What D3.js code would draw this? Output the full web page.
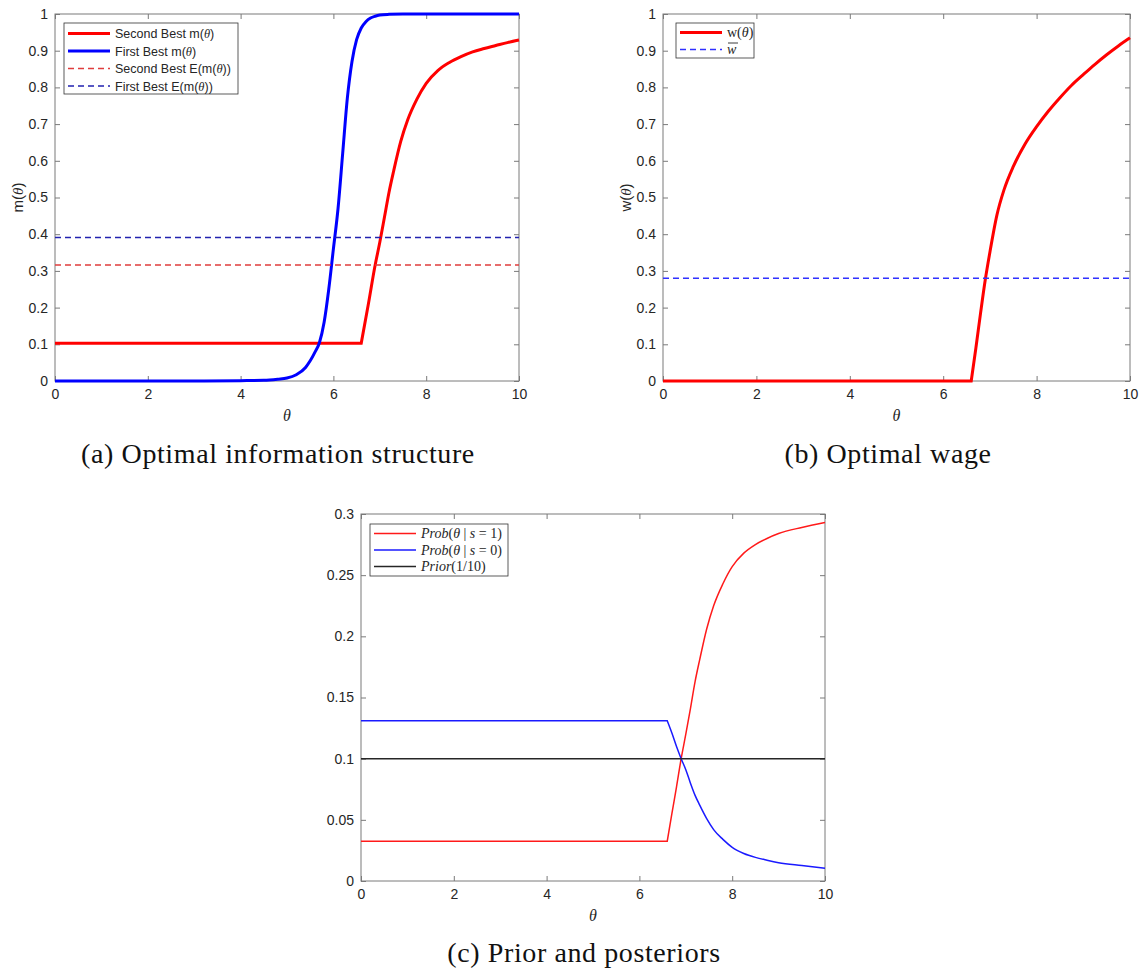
<!DOCTYPE html>
<html>
<head>
<meta charset="utf-8">
<script src="https://cdn.jsdelivr.net/npm/d3@7/dist/d3.min.js"></script>
<style>
  body { margin: 0; background: #fff; }
  svg { display: block; }
  .tick text { font-family: "Liberation Sans", Arial, sans-serif; font-size: 14px; fill: #262626; }
  .tick line { stroke: #7a7a7a; }
  .domain { display: none; }
</style>
</head>
<body>
<svg id="chart" width="1140" height="972"></svg>
<script>
// x axis ticks shared by all three panels
var xTicks = [0, 2, 4, 6, 8, 10];
var yTicksA = [0, 0.1, 0.2, 0.3, 0.4, 0.5, 0.6, 0.7, 0.8, 0.9, 1];
var yTicksC = [0, 0.05, 0.1, 0.15, 0.2, 0.25, 0.3];

// (a) second best m(theta)
var thetaSecond = [0, 6.6, 6.75, 6.9, 7.0, 7.1, 7.2, 7.3, 7.45, 7.6, 7.8, 8.0, 8.25, 8.5, 8.75, 9.0, 9.25, 9.5, 9.75, 10];
var mSecond = [0.103, 0.103, 0.207, 0.316, 0.378, 0.446, 0.515, 0.573, 0.652, 0.711, 0.768, 0.811, 0.846, 0.868, 0.884, 0.897, 0.906, 0.914, 0.922, 0.929];

// (a) first best m(theta)
var thetaFirst = [0, 3, 4, 4.5, 4.8, 5.0, 5.2, 5.4, 5.5, 5.6, 5.7, 5.8, 5.9, 6.0, 6.1, 6.2, 6.3, 6.4, 6.5, 6.6, 6.7, 6.8, 6.9, 7.0, 7.2, 7.5, 8, 10];
var mFirst = [0, 0, 0.001, 0.002, 0.005, 0.008, 0.017, 0.037, 0.055, 0.078, 0.105, 0.16, 0.25, 0.36, 0.47, 0.62, 0.77, 0.87, 0.93, 0.962, 0.979, 0.989, 0.994, 0.997, 0.999, 1, 1, 1];

// (a) expected values
var eSecond = 0.316;
var eFirst = 0.391;

// (b) wage
var thetaWage = [0, 6.6, 6.7, 6.8, 6.9, 7.0, 7.15, 7.3, 7.5, 7.75, 8.0, 8.25, 8.5, 8.75, 9.0, 9.25, 9.5, 9.75, 10];
var wage = [0, 0, 0.09, 0.185, 0.275, 0.351, 0.452, 0.52, 0.584, 0.645, 0.693, 0.735, 0.772, 0.806, 0.835, 0.863, 0.889, 0.913, 0.935];
var wBar = 0.28;

// (c) posteriors and prior
var thetaPost = [0, 6.6, 6.7, 6.8, 6.9, 7.0, 7.1, 7.2, 7.3, 7.45, 7.6, 7.8, 8.0, 8.25, 8.5, 8.75, 9.0, 9.5, 10];
var postS1 = [0.0325, 0.0325, 0.055, 0.077, 0.1, 0.12, 0.141, 0.163, 0.181, 0.206, 0.225, 0.243, 0.257, 0.268, 0.275, 0.28, 0.284, 0.289, 0.293];
var postS0 = [0.131, 0.131, 0.121, 0.11, 0.1, 0.091, 0.08, 0.07, 0.062, 0.051, 0.042, 0.034, 0.0275, 0.0225, 0.0193, 0.017, 0.015, 0.0126, 0.0104];
var prior = 0.1;

// legend / label texts, split into [text, font] runs
var legendA = [
  [['Second Best m(', 'sans'], ['\u03b8', 'it'], [')', 'sans']],
  [['First Best m(', 'sans'], ['\u03b8', 'it'], [')', 'sans']],
  [['Second Best E(m(', 'sans'], ['\u03b8', 'it'], ['))', 'sans']],
  [['First Best E(m(', 'sans'], ['\u03b8', 'it'], ['))', 'sans']]
];
var legendB = [
  [['w(', 'serif'], ['\u03b8', 'it'], [')', 'serif']],
  [['w', 'it']]
];
var legendC = [
  [['Prob', 'it'], ['(', 'serif'], ['\u03b8', 'it'], [' | ', 'serif'], ['s', 'it'], [' = 1)', 'serif']],
  [['Prob', 'it'], ['(', 'serif'], ['\u03b8', 'it'], [' | ', 'serif'], ['s', 'it'], [' = 0)', 'serif']],
  [['Prior', 'it'], ['(1/10)', 'serif']]
];
var captions = ['(a) Optimal information structure', '(b) Optimal wage', '(c) Prior and posteriors'];

var SANS = '"Liberation Sans", Arial, sans-serif';
var SERIF = '"Liberation Serif", "Times New Roman", serif';

var svg = d3.select('#chart');

function addRuns(text, runs) {
  runs.forEach(function(r) {
    var t = text.append('tspan').text(r[0]);
    if (r[1] === 'sans') t.attr('font-family', SANS);
    else t.attr('font-family', SERIF);
    if (r[1] === 'it') t.attr('font-style', 'italic');
  });
}

function drawPanel(p) {
  var x = d3.scaleLinear().domain([0, 10]).range([p.left, p.right]);
  var y = d3.scaleLinear().domain(p.yDomain).range([p.bottom, p.top]);
  var g = svg.append('g');

  g.append('g').attr('transform', 'translate(0,' + p.bottom + ')')
    .call(d3.axisBottom(x).tickValues(xTicks).tickSize(-5).tickSizeOuter(0).tickPadding(8).tickFormat(d3.format('d')));
  g.append('g').attr('transform', 'translate(0,' + p.top + ')')
    .call(d3.axisTop(x).tickValues(xTicks).tickSize(-5).tickSizeOuter(0).tickFormat(''));
  g.append('g').attr('transform', 'translate(' + p.left + ',0)')
    .call(d3.axisLeft(y).tickValues(p.yTicks).tickSize(-5).tickSizeOuter(0).tickPadding(7)
      .tickFormat(function(d) { return String(+d.toFixed(2)); }));
  g.append('g').attr('transform', 'translate(' + p.right + ',0)')
    .call(d3.axisRight(y).tickValues(p.yTicks).tickSize(-5).tickSizeOuter(0).tickFormat(''));

  g.append('rect')
    .attr('x', p.left).attr('y', p.top)
    .attr('width', p.right - p.left).attr('height', p.bottom - p.top)
    .attr('fill', 'none').attr('stroke', '#7a7a7a').attr('stroke-width', 1);

  var line = d3.line().x(function(d) { return x(d[0]); }).y(function(d) { return y(d[1]); });
  var smooth = d3.line().curve(d3.curveMonotoneX).x(function(d) { return x(d[0]); }).y(function(d) { return y(d[1]); });
  p.series.forEach(function(s) {
    var d;
    if (s.level !== undefined) {
      d = line([[0, s.level], [10, s.level]]);
    } else {
      var pts = d3.zip(s.x, s.y);
      if (s.kink) {
        // flat part is straight, then a sharp corner into the smooth rise
        d = line(pts.slice(0, 2)) + smooth(pts.slice(1)).replace(/^M/, 'L');
      } else {
        d = smooth(pts);
      }
    }
    g.append('path').attr('d', d)
      .attr('fill', 'none').attr('stroke', s.color).attr('stroke-width', s.width)
      .attr('stroke-dasharray', s.dash || null);
  });

  // x label
  g.append('text').attr('x', (p.left + p.right) / 2).attr('y', p.bottom + 40)
    .attr('text-anchor', 'middle').attr('font-family', SERIF).attr('font-style', 'italic')
    .attr('font-size', 16).attr('fill', '#262626').text('\u03b8');

  // y label
  if (p.ylabel) {
    var yl = g.append('text')
      .attr('transform', 'translate(' + p.ylabelX + ',' + (p.top + p.bottom) / 2 + ') rotate(-90)')
      .attr('text-anchor', 'middle').attr('font-size', 15).attr('fill', '#262626');
    addRuns(yl, p.ylabel);
  }

  // legend
  var L = p.legend;
  g.append('rect').attr('x', L.x).attr('y', L.y).attr('width', L.w).attr('height', L.h)
    .attr('fill', '#fff').attr('stroke', '#333').attr('stroke-width', 0.8);
  L.rows.forEach(function(runs, i) {
    var s = p.series[i];
    var cy = L.y + L.first + i * L.step;
    g.append('line').attr('x1', L.x + 4).attr('x2', L.x + 46).attr('y1', cy).attr('y2', cy)
      .attr('stroke', s.color).attr('stroke-width', s.width).attr('stroke-dasharray', s.dash || null);
    var t = g.append('text').attr('x', L.x + 51).attr('y', cy + 4.5)
      .attr('font-size', L.font).attr('fill', '#262626');
    addRuns(t, runs);
    if (L.bar && L.bar[i]) {
      // overline for w-bar
      g.append('line').attr('x1', L.x + 52).attr('x2', L.x + 62)
        .attr('y1', cy - 6.5).attr('y2', cy - 6.5).attr('stroke', '#262626').attr('stroke-width', 0.9);
    }
  });

  svg.append('text').attr('x', p.capX).attr('y', p.capY).attr('text-anchor', 'middle')
    .attr('font-family', SERIF).attr('font-size', 28).attr('letter-spacing', 0.6)
    .attr('fill', '#111').text(p.caption);
}

drawPanel({
  left: 55, right: 519, top: 14, bottom: 381,
  yDomain: [0, 1], yTicks: yTicksA,
  ylabel: [['m(', 'sans'], ['\u03b8', 'it'], [')', 'sans']], ylabelX: 23,
  series: [
    {x: thetaSecond, y: mSecond, color: '#ff0000', width: 3, kink: true},
    {x: thetaFirst, y: mFirst, color: '#0000ff', width: 3},
    {level: eSecond, color: '#e03c3c', width: 1.5, dash: '6,4'},
    {level: eFirst, color: '#2222b0', width: 1.5, dash: '6,4'}
  ],
  legend: {x: 64, y: 23, w: 174, h: 71, first: 10.5, step: 17.5, font: 12.5, rows: legendA},
  caption: captions[0], capX: 278, capY: 463
});

drawPanel({
  left: 663, right: 1130, top: 14, bottom: 381,
  yDomain: [0, 1], yTicks: yTicksA,
  ylabel: [['w(', 'sans'], ['\u03b8', 'it'], [')', 'sans']], ylabelX: 631,
  series: [
    {x: thetaWage, y: wage, color: '#ff0000', width: 3, kink: true},
    {level: wBar, color: '#3030ff', width: 1.5, dash: '6,4'}
  ],
  legend: {x: 676, y: 23, w: 78, h: 35, first: 9.5, step: 17, font: 14, rows: legendB, bar: [false, true]},
  caption: captions[1], capX: 888, capY: 463
});

drawPanel({
  left: 361, right: 825, top: 514, bottom: 881,
  yDomain: [0, 0.3], yTicks: yTicksC,
  series: [
    {x: thetaPost, y: postS1, color: '#ff1a1a', width: 1.5, kink: true},
    {x: thetaPost, y: postS0, color: '#1a1aff', width: 1.5, kink: true},
    {level: prior, color: '#262626', width: 1.5}
  ],
  legend: {x: 370, y: 524, w: 138, h: 52, first: 9.5, step: 16.5, font: 14, rows: legendC},
  caption: captions[2], capX: 584, capY: 962
});
</script>
</body>
</html>
